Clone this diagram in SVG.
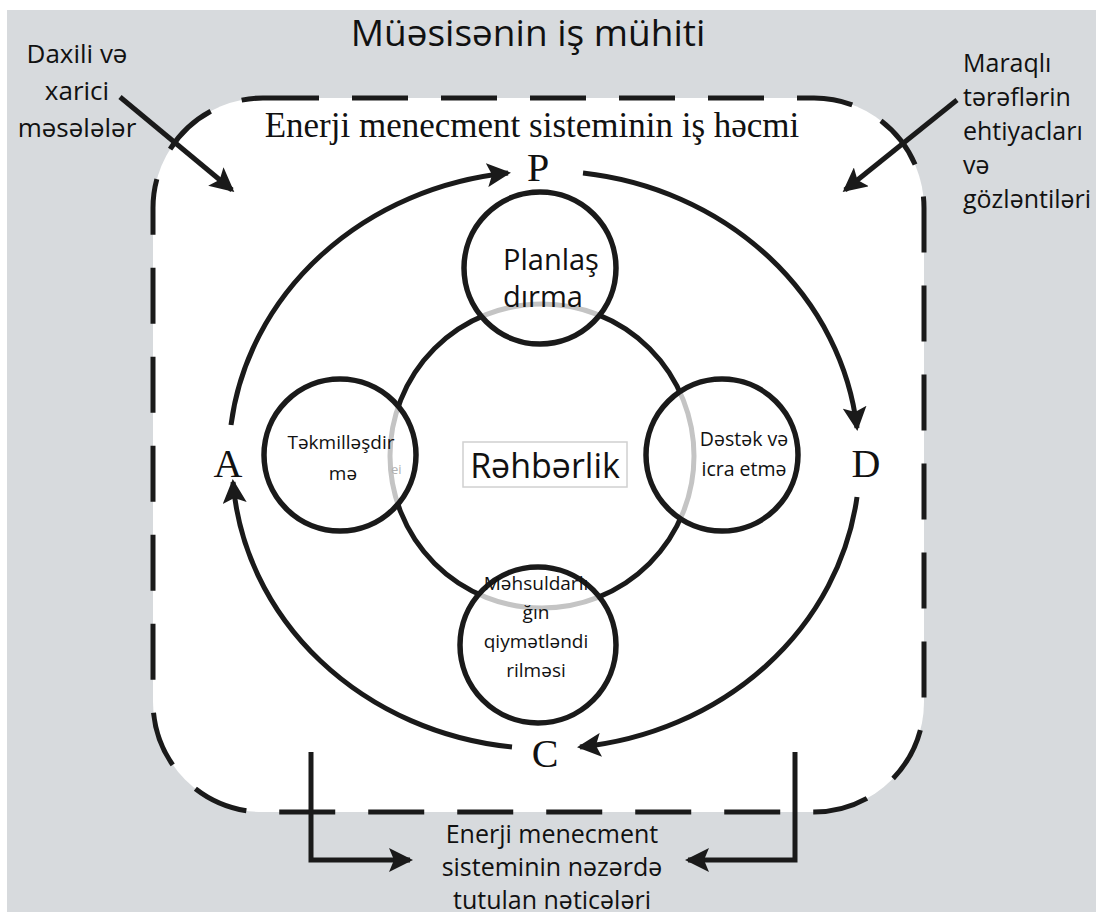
<svg xmlns="http://www.w3.org/2000/svg" width="1096" height="918" viewBox="0 0 1096 918">
<defs>
<marker id="ah" markerUnits="userSpaceOnUse" markerWidth="26" markerHeight="24" refX="21" refY="12" orient="auto">
<path d="M0,0 L24,12 L0,24 L5,12 Z" fill="#1a1a1a"/>
</marker>
<clipPath id="smalls">
<circle cx="540" cy="268" r="76"/>
<circle cx="340" cy="455" r="76"/>
<circle cx="722" cy="455" r="76"/>
<circle cx="538" cy="645" r="78"/>
</clipPath>
</defs>
<style>
.ln{fill:none;stroke:#1a1a1a;stroke-width:5}
.cir{fill:none;stroke:#1a1a1a;stroke-width:5.5}
.cover{fill:#ffffff;stroke:none}
.sans{font-family:"Open Sans","Noto Sans","Liberation Sans",sans-serif;fill:#111}
.serif{font-family:"Liberation Serif","DejaVu Serif",serif;fill:#111}
</style>
<rect x="0" y="0" width="1096" height="918" fill="#ffffff"/>
<rect x="7" y="10" width="1089" height="902" fill="#d7dadd"/>
<g id="scope">
<rect x="153" y="98" width="771" height="714" rx="110" ry="110" fill="#ffffff" stroke="#1a1a1a" stroke-width="5" stroke-dasharray="56 33"/>
</g>
<g id="title"><text class="sans" x="528" y="46" font-size="37" text-anchor="middle">Müəsisənin iş mühiti</text></g>
<g id="scope-label"><text class="serif" x="532" y="137" font-size="35" text-anchor="middle">Enerji menecment sisteminin iş həcmi</text></g>
<g id="left-input">
<text class="sans" font-size="26" text-anchor="middle"><tspan x="77" y="63">Daxili və</tspan><tspan x="77" y="100">xarici</tspan><tspan x="77" y="137">məsələlər</tspan></text>
</g>
<g id="right-input">
<text class="sans" font-size="25"><tspan x="963" y="72">Maraqlı</tspan><tspan x="963" y="106">tərəflərin</tspan><tspan x="963" y="140">ehtiyacları</tspan><tspan x="963" y="174">və</tspan><tspan x="963" y="208">gözləntiləri</tspan></text>
</g>
<g id="outputs">
<text class="sans" font-size="25" text-anchor="middle"><tspan x="552" y="843">Enerji menecment</tspan><tspan x="552" y="876">sisteminin nəzərdə</tspan><tspan x="552" y="909">tutulan nəticələri</tspan></text>
</g>
<g id="center">
<circle cx="542" cy="456" r="152" fill="none" stroke="#1a1a1a" stroke-width="5"/>
</g>
<g id="covers">
<circle cx="540" cy="268" r="76" class="cover"/>
<circle cx="340" cy="455" r="76" class="cover"/>
<circle cx="722" cy="455" r="76" class="cover"/>
<circle cx="538" cy="645" r="78" class="cover"/>
<circle cx="542" cy="456" r="152" fill="none" stroke="#c4c4c4" stroke-width="5" clip-path="url(#smalls)"/>
</g>
<g id="leadership">
<rect x="463" y="442" width="164" height="45" fill="#ffffff" stroke="#d0d0d0" stroke-width="1.5"/>
<text class="sans" x="545" y="478" font-size="34" text-anchor="middle">Rəhbərlik</text>
</g>
<g id="plan">
<circle cx="540" cy="268" r="76" class="cir"/>
<text class="sans" font-size="29"><tspan x="503" y="270">Planlaş</tspan><tspan x="503" y="307">dırma</tspan></text>
</g>
<g id="improve">
<circle cx="340" cy="455" r="76" class="cir"/>
<text class="sans" font-size="19" text-anchor="middle"><tspan x="341" y="449">Təkmilləşdir</tspan><tspan x="343" y="480">mə</tspan></text>
<text class="sans" x="391" y="474" font-size="13" style="fill:#b0b0b0">ei</text>
</g>
<g id="support">
<circle cx="722" cy="455" r="76" class="cir"/>
<text class="sans" font-size="19.5" text-anchor="middle"><tspan x="744" y="446">Dəstək və</tspan><tspan x="744" y="476">icra etmə</tspan></text>
</g>
<g id="evaluate">
<circle cx="538" cy="645" r="78" class="cir"/>
<text class="sans" font-size="19" text-anchor="middle"><tspan x="536" y="590">Məhsuldarlı</tspan><tspan x="536" y="619">ğın</tspan><tspan x="536" y="648">qiymətləndi</tspan><tspan x="536" y="677">rilməsi</tspan></text>
</g>
<g id="letters">
<text class="serif" x="538" y="181" font-size="40" text-anchor="middle">P</text>
<text class="serif" x="228" y="477" font-size="40" text-anchor="middle">A</text>
<text class="serif" x="866" y="477" font-size="40" text-anchor="middle">D</text>
<text class="serif" x="545" y="767" font-size="40" text-anchor="middle">C</text>
</g>
<g id="connectors">
<path class="ln" d="M231,425 A314,288 0 0,1 508,173" marker-end="url(#ah)"/>
<path class="ln" d="M583,173 A314,288 0 0,1 857,428" marker-end="url(#ah)"/>
<path class="ln" d="M857,497 A314,288 0 0,1 580,747" marker-end="url(#ah)"/>
<path class="ln" d="M512,747 A314,288 0 0,1 233,482" marker-end="url(#ah)"/>
<path class="ln" d="M120,97 L232,190" marker-end="url(#ah)"/>
<path class="ln" d="M957,100 L845,190" marker-end="url(#ah)"/>
<path class="ln" d="M311,752 L311,860 L410,860" marker-end="url(#ah)"/>
<path class="ln" d="M795,752 L795,860 L688,860" marker-end="url(#ah)"/>
</g>
</svg>
